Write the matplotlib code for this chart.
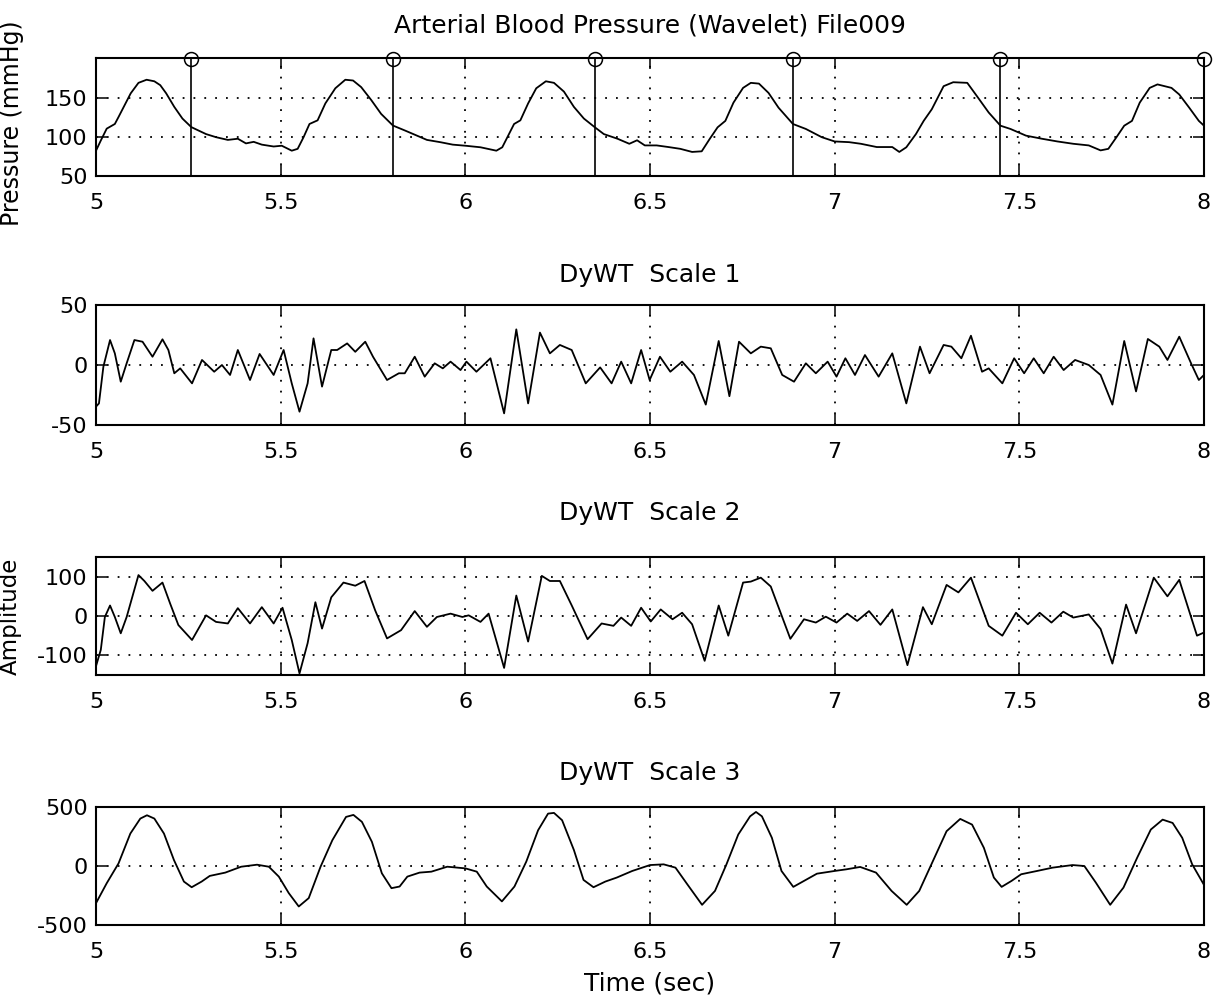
import numpy as np
import matplotlib
matplotlib.use("Agg")
import matplotlib.pyplot as plt

plt.rcParams['font.family'] = ['DejaVu Sans']
plt.rcParams['axes.unicode_minus'] = False

# === values ===
xticks = [5, 5.5, 6, 6.5, 7, 7.5, 8]
xtick_labels = ['5', '5.5', '6', '6.5', '7', '7.5', '8']

# arterial blood pressure (mmHg)
t_abp = [5.000, 5.013, 5.029, 5.051, 5.061, 5.094, 5.115, 5.137, 5.158, 5.174,
         5.190, 5.212, 5.234, 5.258, 5.277, 5.298, 5.325, 5.357, 5.384, 5.406,
         5.427, 5.449, 5.481, 5.503, 5.530, 5.546, 5.562, 5.578, 5.600, 5.621,
         5.648, 5.675, 5.696, 5.718, 5.745, 5.772, 5.804, 5.836, 5.869, 5.896,
         5.933, 5.966, 6.000, 6.041, 6.084, 6.100, 6.116, 6.132, 6.149, 6.170,
         6.192, 6.218, 6.240, 6.267, 6.294, 6.321, 6.350, 6.375, 6.412, 6.444,
         6.465, 6.486, 6.518, 6.550, 6.582, 6.614, 6.640, 6.662, 6.683, 6.704,
         6.726, 6.752, 6.773, 6.795, 6.821, 6.848, 6.887, 6.922, 6.965, 7.000,
         7.039, 7.071, 7.114, 7.156, 7.175, 7.194, 7.220, 7.241, 7.263, 7.295,
         7.321, 7.359, 7.385, 7.417, 7.449, 7.476, 7.518, 7.561, 7.603, 7.646,
         7.688, 7.720, 7.741, 7.763, 7.784, 7.805, 7.826, 7.853, 7.874, 7.912,
         7.933, 7.960, 7.986, 8.000]
abp = [82.6, 95.7, 111, 117, 126, 156.5, 170, 174, 172, 167,
       156.5, 139, 124, 113, 108.7, 104, 100, 96.5, 98, 92,
       94, 90.4, 88, 89, 82.6, 85, 100, 117, 121.7, 143.5,
       163, 174, 173, 164.5, 148, 130, 115, 108.7, 102, 96.5,
       93.5, 90.4, 89, 87, 82.6, 87, 102, 117, 121.7, 143.5,
       163, 172, 170, 158.7, 139, 124, 113, 104, 98, 91.5,
       96, 89.4, 89.4, 87.3, 85, 81, 81.8, 98, 112.7, 121,
       144.5, 163.5, 170, 169, 157, 138, 117, 110.6, 100, 94.5,
       93.6, 91.5, 87.3, 87.3, 81, 87, 104, 121, 136, 165.7,
       170.8, 170, 153, 131.8, 114.8, 110.6, 102, 98, 94.5, 91.5,
       89.4, 83, 85, 100, 114.8, 121, 144.5, 163.5, 168, 163.5,
       155, 138, 121, 114.8]

# detected beats (stems)
beat_t = [5.258, 5.804, 6.350, 6.887, 7.449, 8.000]
beat_level = [201, 201, 201, 201, 201, 201]

# DyWT scale 1
t_s1 = [5.0, 5.008, 5.02, 5.038, 5.051, 5.067, 5.083, 5.104, 5.126, 5.153,
        5.18, 5.196, 5.212, 5.228, 5.26, 5.287, 5.32, 5.341, 5.363, 5.384,
        5.417, 5.443, 5.481, 5.508, 5.53, 5.551, 5.573, 5.589, 5.612, 5.637,
        5.653, 5.68, 5.702, 5.729, 5.75, 5.788, 5.82, 5.836, 5.863, 5.89,
        5.917, 5.939, 5.96, 5.987, 6.003, 6.03, 6.068, 6.105, 6.138, 6.17,
        6.202, 6.229, 6.256, 6.288, 6.326, 6.365,
        6.396, 6.422, 6.449, 6.476, 6.499, 6.527, 6.555, 6.587, 6.619, 6.651,
        6.686, 6.715, 6.741, 6.773, 6.8, 6.827, 6.858, 6.89, 6.922, 6.949,
        6.981, 7.005, 7.029, 7.055, 7.082, 7.119, 7.156, 7.194, 7.231, 7.257,
        7.295, 7.316, 7.343, 7.369, 7.399, 7.417, 7.454, 7.486, 7.513, 7.539,
        7.566, 7.593, 7.62, 7.651, 7.688, 7.72, 7.752, 7.784, 7.816, 7.848,
        7.879, 7.901, 7.933, 7.965, 7.986, 8.0]
s1 = [-34.7, -32, -1.4, 20.8, 9.7, -13.9, 1.4, 20.8, 19.4, 6.9,
      21.4, 12.5, -6.9, -2.8, -15.3, 4.2, -5.6, 0, -8.3, 12.5,
      -12.5, 9.2, -8.3, 12.5, -15.3, -38.9, -15.3, 22.2, -18, 12.5,
      12.5, 18, 11, 19.4, 6.9, -12.5, -6.9, -6.9, 6.9, -9.7,
      1.4, -2.8, 2.8, -4.2, 2.8, -5.6, 5.6, -40.3, 29.7, -32,
      27, 9.7, 16.7, 12.5, -15.3, -2,
      -15.3, 2.8, -15.3, 12.5, -12.5, 6.9, -5.6, 2.8, -8.3, -33,
      20, -26, 19.4, 9.7, 15.3, 13.9, -8.3, -13.9, 1.4, -6.9,
      2.8, -9.7, 5.6, -8.3, 8.3, -9.7, 9.7, -32, 15.3, -6.9,
      16.7, 15.3, 5.6, 24.4, -5.6, -2.8, -15.3, 5.6, -6.9, 5.6,
      -6.9, 6.9, -4.2, 4.2, 0, -8.3, -33, 20, -22, 21.7,
      15.3, 4.2, 23.6, 1.4, -12.5, -8.3]

# DyWT scale 2
t_s2 = [5.0, 5.013, 5.024, 5.038, 5.051, 5.067, 5.083, 5.115, 5.131, 5.153,
        5.18, 5.201, 5.223, 5.26, 5.298, 5.325, 5.357, 5.384, 5.417, 5.449,
        5.481, 5.505, 5.53, 5.551, 5.573, 5.594, 5.612, 5.637, 5.67, 5.702,
        5.727, 5.756, 5.788, 5.826, 5.863, 5.896, 5.923, 5.96, 5.992, 6.009,
        6.041, 6.063, 6.105, 6.138, 6.17, 6.207, 6.229, 6.256, 6.288, 6.331,
        6.369, 6.401, 6.422, 6.449, 6.476, 6.502, 6.529, 6.561, 6.587, 6.614,
        6.648, 6.686, 6.712, 6.752, 6.773, 6.8, 6.827, 6.88, 6.917, 6.949,
        6.976, 7.005, 7.034, 7.061, 7.093, 7.124, 7.156, 7.197, 7.239, 7.263,
        7.303, 7.335, 7.369, 7.417, 7.454, 7.491, 7.523, 7.555, 7.587, 7.619,
        7.646, 7.688, 7.72, 7.752, 7.789, 7.816, 7.864, 7.901, 7.933, 7.981,
        8.0]
s2 = [-127.5, -86, -2.5, 26.7, -2.5, -44, -2.5, 104, 89, 64,
      85, 31, -23, -61, 1.7, -15, -19, 20, -19, 22.5,
      -19, 21, -61, -146, -69, 35, -32, 47.5, 85, 77,
      89, 14, -57, -36, 12.5, -27.5, -2.5, 6, -2.5, 1.7,
      -15, 6, -132, 52, -65, 102, 89, 89, 27, -59,
      -19, -25, -4, -25, 21, -14, 16.7, -8.3, 8.3, -21,
      -114, 26.7, -50, 85, 87.5, 97.5, 75, -58, -8.3, -16.7,
      -1.7, -16.7, 6, -12.5, 12.5, -22.5, 16.7, -125, 22.5, -21,
      79, 60, 97.5, -25, -50, 8.3, -21, 8.3, -16.7, 11,
      -4, 4, -33, -121, 29, -44, 97.5, 50, 92, -50,
      -42]

# DyWT scale 3
t_s3 = [5.0, 5.029, 5.061, 5.093, 5.12, 5.138, 5.158, 5.184, 5.211, 5.238,
        5.259, 5.286, 5.308, 5.35, 5.393, 5.436, 5.468, 5.495, 5.522, 5.549,
        5.576, 5.608, 5.64, 5.677, 5.697, 5.72, 5.747, 5.774, 5.8, 5.822,
        5.843, 5.876, 5.908, 5.951, 6.0, 6.031, 6.058, 6.099, 6.133, 6.165,
        6.197, 6.224, 6.24, 6.262, 6.294, 6.32, 6.347, 6.379, 6.41, 6.452,
        6.5, 6.537, 6.569, 6.601, 6.641, 6.676, 6.707, 6.739, 6.771, 6.787,
        6.803, 6.83, 6.856, 6.888, 6.92, 6.952, 7.0, 7.032, 7.069, 7.112,
        7.154, 7.195, 7.229, 7.266, 7.303, 7.34, 7.372, 7.404, 7.431, 7.452,
        7.479, 7.505, 7.548, 7.59, 7.644, 7.676, 7.707, 7.746, 7.782, 7.819,
        7.856, 7.888, 7.915, 7.941, 7.968, 8.0]
s3 = [-315, -146, 22, 275, 402, 430, 402, 275, 51, -132,
      -180, -132, -84, -56, -6, 11, -6, -90, -230, -343,
      -272, -6, 219, 416, 433, 374, 205, -62, -188, -174,
      -90, -56, -48, -6, -20, -48, -174, -300, -174, 37,
      303, 444, 450, 388, 135, -118, -180, -132, -98, -42,
      8, 14, -14, -155, -329, -211, 14, 267, 421, 458,
      421, 239, -42, -177, -121, -65, -42, -28, -8, -56,
      -211, -329, -211, 42, 295, 399, 351, 154, -98, -177,
      -126, -70, -42, -14, 8, 0, -140, -329, -183, 70,
      309, 393, 365, 239, 14, -160]

# === figure ===
W, H = 1216, 1002
fig = plt.figure(figsize=(W / 100, H / 100), dpi=100)

left, right = 96, 1204
# (axes top px, axes bottom px, title centre px)
rows = [(58, 176, 25), (305, 425, 275), (557, 675, 513), (807, 925, 773)]
axes = []
for top, bot, tt in rows:
    ax = fig.add_axes([left / W, 1 - bot / H, (right - left) / W, (bot - top) / H])
    axes.append(ax)

FS = 16      # tick labels
FS_T = 18    # titles
FS_L = 17    # axis labels
LW = 1.3


def style(ax, ylim, yticks, title, top, bot, tt):
    ax.set_xlim(5, 8)
    ax.set_xticks(xticks)
    ax.set_xticklabels(xtick_labels)
    ax.set_ylim(ylim)
    ax.set_yticks(yticks)
    ax.grid(True, color='k', linestyle=(0, (1, 5)), linewidth=1.3)
    ax.tick_params(direction='in', length=8, width=1.1, top=True, right=True,
                   labelsize=FS, colors='k')
    ax.tick_params(axis='x', pad=12)
    ax.tick_params(axis='y', pad=6)
    for s in ax.spines.values():
        s.set_linewidth(1.5)
    ax.set_title(title, fontsize=FS_T, y=1 + (top - tt) / (bot - top), va='center', pad=0)


ax1, ax2, ax3, ax4 = axes

ax1.plot(t_abp, abp, color='k', linewidth=LW)
ax1.vlines(beat_t, 50, beat_level, color='k', linewidth=1.2)
ax1.plot(beat_t, beat_level, 'o', mfc='none', mec='k', ms=10, mew=1.1, clip_on=False)
style(ax1, (50, 202), [50, 100, 150], 'Arterial Blood Pressure (Wavelet) File009', *rows[0])
ax1.set_ylabel('Pressure (mmHg)', fontsize=FS_L)
ax1.yaxis.set_label_coords((24 - left) / (right - left), 0.45)

ax2.plot(t_s1, s1, color='k', linewidth=LW)
style(ax2, (-50, 50), [-50, 0, 50], 'DyWT  Scale 1', *rows[1])

ax3.plot(t_s2, s2, color='k', linewidth=LW)
style(ax3, (-150, 150), [-100, 0, 100], 'DyWT  Scale 2', *rows[2])
ax3.set_ylabel('Amplitude', fontsize=16.5)
ax3.yaxis.set_label_coords((22 - left) / (right - left), 0.5)

ax4.plot(t_s3, s3, color='k', linewidth=LW)
style(ax4, (-500, 500), [-500, 0, 500], 'DyWT  Scale 3', *rows[3])
ax4.set_xlabel('Time (sec)', fontsize=FS_T)
ax4.xaxis.set_label_coords(0.5, -(983 - 925) / (925 - 807))
ax4.xaxis.label.set_va('center')

fig.savefig('out.png', dpi=100)
